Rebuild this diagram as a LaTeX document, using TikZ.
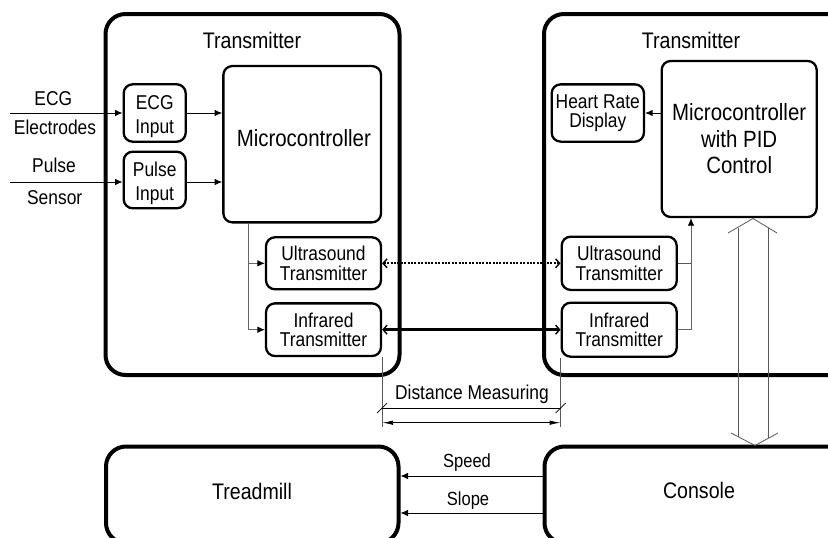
\documentclass[tikz,border=0pt]{standalone}
\usepackage{fontspec}
\setmainfont{Liberation Sans}[FakeStretch=0.87]
\usetikzlibrary{arrows.meta,calc}
\begin{document}
\begin{tikzpicture}[x=1pt,y=-1pt,
  bigbox/.style={draw,line width=4pt,rounded corners=20pt,inner sep=0pt},
  smallbox/.style={draw,line width=2.3pt,rounded corners=9pt,inner sep=0pt,align=center},
  conn/.style={line width=0.9pt,-{Latex[length=7.5pt,width=6.5pt]}},
  feed/.style={line width=0.8pt,draw=black!60,-{Latex[length=7.5pt,width=6.5pt,color=black]}},
  thinline/.style={line width=0.8pt,draw=black!65},
  lbl/.style={inner sep=0pt,anchor=base,font=\fontsize{20}{20}\selectfont},
  bigtxt/.style={inner sep=0pt,anchor=base,font=\fontsize{22.5}{22.5}\selectfont},
  barb/.tip={Straight Barb[length=4pt,width=9pt,line width=1.4pt]},
]
\useasboundingbox (0,0) rectangle (828,538);
\clip (0,0) rectangle (828,538);

% big boxes
\node[bigbox,minimum width=294pt,minimum height=361pt] (tx1) at (252.5,194.5) {};
\node[bigbox,minimum width=326pt,minimum height=361pt] (tx2) at (707,194.5) {};
\node[bigbox,minimum width=292.5pt,minimum height=96.5pt] (tm) at (252.25,494.75) {};
\node[bigbox,minimum width=325.5pt,minimum height=96.5pt] (co) at (707.25,494.75) {};

\node[bigtxt] (t1) at (252,48.3) {Transmitter};
\node[bigtxt] (t2) at (691,48.3) {Transmitter};
\node[bigtxt] (tmt) at (252,499) {Treadmill};
\node[bigtxt] (cot) at (699,498.5) {Console};

% left transmitter
\node[smallbox,minimum width=62pt,minimum height=57.4pt,text height=45.5pt,font=\fontsize{20}{24}\selectfont] (ecgin) at (154.7,113) {ECG\\Input};
\node[smallbox,minimum width=62pt,minimum height=56.6pt,text height=45.5pt,font=\fontsize{20}{24}\selectfont] (pulsein) at (154.7,180) {Pulse\\Input};
\node[smallbox,minimum width=157.7pt,minimum height=156.3pt] (mc1) at (302.2,144.2) {};
\node[inner sep=0pt,anchor=base,font=\fontsize{23.5}{23.5}\selectfont] (mc1t) at (303.8,146.7) {Microcontroller};
\node[smallbox,minimum width=115pt,minimum height=52pt,font=\fontsize{20}{19.5}\selectfont] (us1) at (323.5,263.3) {Ultrasound\\Transmitter};
\node[smallbox,minimum width=115pt,minimum height=52.7pt,font=\fontsize{20}{19.5}\selectfont] (ir1) at (323.5,329.7) {Infrared\\Transmitter};

% right transmitter
\node[smallbox,minimum width=92.3pt,minimum height=57.3pt,font=\fontsize{20}{19.5}\selectfont] (hrd) at (597.8,113) {Heart Rate\\Display};
\node[smallbox,minimum width=155pt,minimum height=156pt,font=\fontsize{23.5}{26.5}\selectfont] (mc2) at (739.2,139) {Microcontroller\\with PID\\Control};
\node[smallbox,minimum width=115pt,minimum height=53.3pt,font=\fontsize{20}{19.5}\selectfont] (us2) at (619.2,263.3) {Ultrasound\\Transmitter};
\node[smallbox,minimum width=115pt,minimum height=54pt,font=\fontsize{20}{19.5}\selectfont] (ir2) at (619.2,329.7) {Infrared\\Transmitter};

% outside labels
\node[lbl] (ecgl) at (53.3,105.7) {ECG};
\node[lbl] (elel) at (55,134.3) {Electrodes};
\node[lbl] (pulsel) at (54,172.7) {Pulse};
\node[lbl] (sensl) at (54.7,204) {Sensor};

\coordinate (ecgsrc) at (10,113);
\coordinate (pulsesrc) at (10,182);
\draw[conn] (ecgsrc) -- (ecgsrc -| ecgin.west);
\draw[conn] (pulsesrc) -- (pulsesrc -| pulsein.west);
\draw[conn] (ecgin.east) -- (ecgin.east -| mc1.west);
\draw[conn] (pulsesrc -| pulsein.east) -- (pulsesrc -| mc1.west);

% feed lines left
\coordinate (fd) at (248,0);
\draw[feed] (fd |- mc1.south) -- (fd |- ir1.west) -- (ir1.west);
\draw[feed] (fd |- us1.west) -- (us1.west);

% right feed
\coordinate (rf) at (691,0);
\draw[thinline] (us2.east) -- (rf |- us2.east);
\draw[feed] (ir2.east) -- (rf |- ir2.east) -- (rf |- mc2.south);
\draw[conn] (mc2.west |- hrd.east) -- (hrd.east);

% links between transmitters
\draw[line width=2pt,dash pattern=on 2pt off 1.4pt,barb-barb] (us1.east) -- (us2.west);
\draw[line width=3pt,barb-barb] (ir1.east) -- (ir2.west);

% hollow double arrow
\coordinate (ta) at (753,218.5);
\coordinate (ba) at (755,445.5);
\draw[thinline,line join=miter] (728,233) -- (ta) -- (777,233);
\draw[thinline,line join=miter] (731,433) -- (ba) -- (778,433);
\draw[thinline] (738,227.5) -- (738,436.5);
\draw[thinline] (768,227.5) -- (768,438.2);

% distance measuring
\coordinate (dmb) at (0,427);
\coordinate (dml) at (0,408);
\coordinate (dma) at (0,422.7);
\draw[thinline] (ir1.south east) -- (ir1.south east |- dmb);
\draw[thinline] (ir2.south west) -- (ir2.south west |- dmb);
\draw[line width=0.8pt] (ir1.south east |- dml) -- (ir2.south west |- dml);
\draw[line width=0.7pt] ($(ir1.south east |- dml)+(-5,5)$) -- ($(ir1.south east |- dml)+(5,-5)$);
\draw[line width=0.7pt] ($(ir2.south west |- dml)+(-5,5)$) -- ($(ir2.south west |- dml)+(5,-5)$);
\draw[line width=0.9pt,{Latex[length=11pt,width=4.5pt]}-{Latex[length=11pt,width=4.5pt]}] (ir1.south east |- dma) -- (ir2.south west |- dma);
\node[lbl] (dmt) at (472,399.3) {Distance Measuring};

% treadmill / console
\coordinate (sp) at (0,476);
\coordinate (sl) at (0,513);
\draw[conn] (co.west |- sp) -- (tm.east |- sp);
\draw[conn] (co.west |- sl) -- (tm.east |- sl);
\node[lbl,font=\fontsize{19}{19}\selectfont] (spt) at (467,467) {Speed};
\node[lbl,font=\fontsize{19}{19}\selectfont] (slt) at (468,505) {Slope};
\end{tikzpicture}
\end{document}
